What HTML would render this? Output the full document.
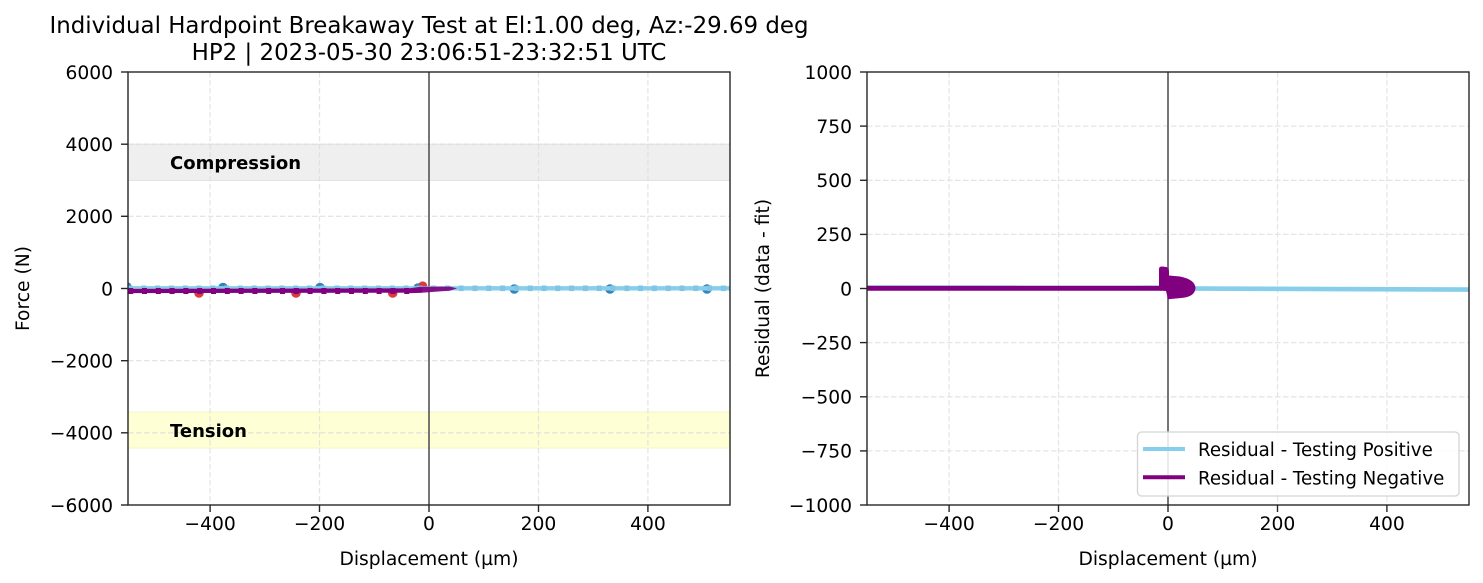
<!DOCTYPE html>
<html>
<head>
<meta charset="utf-8">
<style>
  html, body { margin: 0; padding: 0; background: #ffffff; }
  svg { display: block; }
  text { font-family: "DejaVu Sans", "Liberation Sans", sans-serif; fill: #000; }
</style>
</head>
<body>
<svg width="1483" height="583" viewBox="0 0 1483 583" xmlns="http://www.w3.org/2000/svg">
  <rect x="0" y="0" width="1483" height="583" fill="#ffffff"/>

  <defs>
    <clipPath id="clipL"><rect x="128" y="72" width="602" height="433"/></clipPath>
    <clipPath id="clipR"><rect x="867" y="72" width="602" height="433"/></clipPath>
  </defs>

  <g clip-path="url(#clipL)">
    <rect x="128" y="144.2" width="602" height="36.2" fill="#efefef" stroke="#e2e2e2" stroke-width="1"/>
    <rect x="128" y="412" width="602" height="36" fill="#ffffd6" stroke="#f4f4c8" stroke-width="1"/>
    <g stroke="#dddddd" stroke-width="1.3" stroke-dasharray="5.5,2.5" opacity="0.75">
      <line x1="210.1" y1="72" x2="210.1" y2="505"/>
      <line x1="319.5" y1="72" x2="319.5" y2="505"/>
      <line x1="429" y1="72" x2="429" y2="505"/>
      <line x1="538.5" y1="72" x2="538.5" y2="505"/>
      <line x1="647.9" y1="72" x2="647.9" y2="505"/>
      <line x1="128" y1="144.2" x2="730" y2="144.2"/>
      <line x1="128" y1="216.3" x2="730" y2="216.3"/>
      <line x1="128" y1="288.5" x2="730" y2="288.5"/>
      <line x1="128" y1="360.7" x2="730" y2="360.7"/>
      <line x1="128" y1="432.8" x2="730" y2="432.8"/>
    </g>
    <line x1="429" y1="72" x2="429" y2="505" stroke="#555555" stroke-width="1.6"/>

    <g fill="#1f77b4" opacity="0.9">
      <circle cx="127" cy="287" r="4.8"/>
      <circle cx="223" cy="287.5" r="4.8"/>
      <circle cx="320" cy="287.5" r="4.8"/>
      <circle cx="418" cy="288" r="4.8"/>
      <circle cx="514.3" cy="289" r="4.8"/>
      <circle cx="610" cy="289" r="4.8"/>
      <circle cx="707" cy="289" r="4.8"/>
    </g>
    <g fill="#d62728" opacity="0.9">
      <circle cx="199" cy="293" r="4.8"/>
      <circle cx="296" cy="293" r="4.8"/>
      <circle cx="392.7" cy="293" r="4.8"/>
      <circle cx="422.7" cy="286" r="4.6"/>
    </g>

    <line x1="128" y1="288.3" x2="730" y2="288.3" stroke="#87ceeb" stroke-width="4.3"/>
    <g fill="#7fc6e6">
      <rect x="127.5" y="285.5" width="5" height="5.6"/><rect x="141.3" y="285.5" width="5" height="5.6"/><rect x="155.1" y="285.5" width="5" height="5.6"/><rect x="168.9" y="285.5" width="5" height="5.6"/><rect x="182.7" y="285.5" width="5" height="5.6"/><rect x="196.5" y="285.5" width="5" height="5.6"/><rect x="210.3" y="285.5" width="5" height="5.6"/><rect x="224.1" y="285.5" width="5" height="5.6"/><rect x="237.9" y="285.5" width="5" height="5.6"/><rect x="251.7" y="285.5" width="5" height="5.6"/><rect x="265.5" y="285.5" width="5" height="5.6"/><rect x="279.3" y="285.5" width="5" height="5.6"/><rect x="293.1" y="285.5" width="5" height="5.6"/><rect x="306.9" y="285.5" width="5" height="5.6"/><rect x="320.7" y="285.5" width="5" height="5.6"/><rect x="334.5" y="285.5" width="5" height="5.6"/><rect x="348.3" y="285.5" width="5" height="5.6"/><rect x="362.1" y="285.5" width="5" height="5.6"/><rect x="375.9" y="285.5" width="5" height="5.6"/><rect x="389.7" y="285.5" width="5" height="5.6"/><rect x="403.5" y="285.5" width="5" height="5.6"/><rect x="417.3" y="285.5" width="5" height="5.6"/><rect x="431.1" y="285.5" width="5" height="5.6"/><rect x="444.9" y="285.5" width="5" height="5.6"/><rect x="458.7" y="285.5" width="5" height="5.6"/><rect x="472.5" y="285.5" width="5" height="5.6"/><rect x="486.3" y="285.5" width="5" height="5.6"/><rect x="500.1" y="285.5" width="5" height="5.6"/><rect x="513.9" y="285.5" width="5" height="5.6"/><rect x="527.7" y="285.5" width="5" height="5.6"/><rect x="541.5" y="285.5" width="5" height="5.6"/><rect x="555.3" y="285.5" width="5" height="5.6"/><rect x="569.1" y="285.5" width="5" height="5.6"/><rect x="582.9" y="285.5" width="5" height="5.6"/><rect x="596.7" y="285.5" width="5" height="5.6"/><rect x="610.5" y="285.5" width="5" height="5.6"/><rect x="624.3" y="285.5" width="5" height="5.6"/><rect x="638.1" y="285.5" width="5" height="5.6"/><rect x="651.9" y="285.5" width="5" height="5.6"/><rect x="665.7" y="285.5" width="5" height="5.6"/><rect x="679.5" y="285.5" width="5" height="5.6"/><rect x="693.3" y="285.5" width="5" height="5.6"/><rect x="707.1" y="285.5" width="5" height="5.6"/><rect x="720.9" y="285.5" width="5" height="5.6"/>
    </g>

    <line x1="128" y1="291" x2="422" y2="290.5" stroke="#800080" stroke-width="4.3"/>
    <g fill="#800080">
      <rect x="128.2" y="288" width="5" height="6"/><rect x="142" y="288" width="5" height="6"/><rect x="155.8" y="288" width="5" height="6"/><rect x="169.6" y="288" width="5" height="6"/><rect x="183.4" y="288" width="5" height="6"/><rect x="197.2" y="288" width="5" height="6"/><rect x="211" y="288" width="5" height="6"/><rect x="224.8" y="288" width="5" height="6"/><rect x="238.6" y="288" width="5" height="6"/><rect x="252.4" y="288" width="5" height="6"/><rect x="266.2" y="288" width="5" height="6"/><rect x="280" y="288" width="5" height="6"/><rect x="293.8" y="288" width="5" height="6"/><rect x="307.6" y="288" width="5" height="6"/><rect x="321.4" y="288" width="5" height="6"/><rect x="335.2" y="288" width="5" height="6"/><rect x="349" y="288" width="5" height="6"/><rect x="362.8" y="288" width="5" height="6"/><rect x="376.6" y="288" width="5" height="6"/><rect x="390.4" y="288" width="5" height="6"/><rect x="404.2" y="288" width="5" height="6"/>
    </g>
    <path d="M405,289 L420,286.8 L450,286.6 L457,288.4 L450,290.6 L422,292.8 L405,293.4 Z" fill="#800080" opacity="0.92"/>
  </g>

  <text x="170" y="169" font-size="18" font-weight="bold">Compression</text>
  <text x="170" y="437" font-size="18" font-weight="bold">Tension</text>

  <rect x="128" y="72" width="602" height="433" fill="none" stroke="#262626" stroke-width="1.4"/>
  <g stroke="#262626" stroke-width="1.4">
    <line x1="121" y1="72" x2="128" y2="72"/>
    <line x1="121" y1="144.2" x2="128" y2="144.2"/>
    <line x1="121" y1="216.3" x2="128" y2="216.3"/>
    <line x1="121" y1="288.5" x2="128" y2="288.5"/>
    <line x1="121" y1="360.7" x2="128" y2="360.7"/>
    <line x1="121" y1="432.8" x2="128" y2="432.8"/>
    <line x1="121" y1="505" x2="128" y2="505"/>
    <line x1="210.1" y1="505" x2="210.1" y2="512"/>
    <line x1="319.5" y1="505" x2="319.5" y2="512"/>
    <line x1="429" y1="505" x2="429" y2="512"/>
    <line x1="538.5" y1="505" x2="538.5" y2="512"/>
    <line x1="647.9" y1="505" x2="647.9" y2="512"/>
  </g>
  <g font-size="18.7" text-anchor="end">
    <text x="113" y="78.8">6000</text>
    <text x="113" y="151">4000</text>
    <text x="113" y="223.1">2000</text>
    <text x="113" y="295.3">0</text>
    <text x="113" y="367.5">−2000</text>
    <text x="113" y="439.6">−4000</text>
    <text x="113" y="511.8">−6000</text>
  </g>
  <g font-size="18.7" text-anchor="middle">
    <text x="210.1" y="530">−400</text>
    <text x="319.5" y="530">−200</text>
    <text x="429" y="530">0</text>
    <text x="538.5" y="530">200</text>
    <text x="647.9" y="530">400</text>
  </g>
  <text x="429" y="565" font-size="18.7" text-anchor="middle">Displacement (µm)</text>
  <text transform="translate(29,288.5) rotate(-90)" font-size="18.7" text-anchor="middle">Force (N)</text>
  <text x="429" y="33" font-size="22.9" text-anchor="middle">Individual Hardpoint Breakaway Test at El:1.00 deg, Az:-29.69 deg</text>
  <text x="429" y="60" font-size="22.9" text-anchor="middle">HP2 | 2023-05-30 23:06:51-23:32:51 UTC</text>

  <g clip-path="url(#clipR)">
    <g stroke="#dddddd" stroke-width="1.3" stroke-dasharray="5.5,2.5" opacity="0.75">
      <line x1="949.1" y1="72" x2="949.1" y2="505"/>
      <line x1="1058.5" y1="72" x2="1058.5" y2="505"/>
      <line x1="1168" y1="72" x2="1168" y2="505"/>
      <line x1="1277.5" y1="72" x2="1277.5" y2="505"/>
      <line x1="1386.9" y1="72" x2="1386.9" y2="505"/>
      <line x1="867" y1="126.1" x2="1469" y2="126.1"/>
      <line x1="867" y1="180.3" x2="1469" y2="180.3"/>
      <line x1="867" y1="234.4" x2="1469" y2="234.4"/>
      <line x1="867" y1="288.5" x2="1469" y2="288.5"/>
      <line x1="867" y1="342.6" x2="1469" y2="342.6"/>
      <line x1="867" y1="396.8" x2="1469" y2="396.8"/>
      <line x1="867" y1="450.9" x2="1469" y2="450.9"/>
    </g>
    <line x1="1168" y1="72" x2="1168" y2="505" stroke="#555555" stroke-width="1.6"/>

    <line x1="867" y1="287" x2="1168" y2="287.2" stroke="#87ceeb" stroke-width="3.5"/>
    <line x1="1168" y1="288.4" x2="1469" y2="289.6" stroke="#87ceeb" stroke-width="4.6"/>
    <line x1="867" y1="288.3" x2="1162" y2="288.3" stroke="#800080" stroke-width="4.8"/>
    <path d="M1159,290.5 L1159,269 Q1159,266.5 1162,266.5 L1166.5,267 Q1169,268 1169,272 L1169,275.5 L1180,276.5 Q1195,279.5 1195.5,288 Q1195,297 1181,298 L1168,299.3 L1166,291 Z" fill="#800080"/>
  </g>

  <rect x="867" y="72" width="602" height="433" fill="none" stroke="#262626" stroke-width="1.4"/>
  <g stroke="#262626" stroke-width="1.4">
    <line x1="860" y1="72" x2="867" y2="72"/>
    <line x1="860" y1="126.1" x2="867" y2="126.1"/>
    <line x1="860" y1="180.3" x2="867" y2="180.3"/>
    <line x1="860" y1="234.4" x2="867" y2="234.4"/>
    <line x1="860" y1="288.5" x2="867" y2="288.5"/>
    <line x1="860" y1="342.6" x2="867" y2="342.6"/>
    <line x1="860" y1="396.8" x2="867" y2="396.8"/>
    <line x1="860" y1="450.9" x2="867" y2="450.9"/>
    <line x1="860" y1="505" x2="867" y2="505"/>
    <line x1="949.1" y1="505" x2="949.1" y2="512"/>
    <line x1="1058.5" y1="505" x2="1058.5" y2="512"/>
    <line x1="1168" y1="505" x2="1168" y2="512"/>
    <line x1="1277.5" y1="505" x2="1277.5" y2="512"/>
    <line x1="1386.9" y1="505" x2="1386.9" y2="512"/>
  </g>
  <g font-size="18.7" text-anchor="end">
    <text x="852" y="78.8">1000</text>
    <text x="852" y="132.9">750</text>
    <text x="852" y="187.1">500</text>
    <text x="852" y="241.2">250</text>
    <text x="852" y="295.3">0</text>
    <text x="852" y="349.4">−250</text>
    <text x="852" y="403.6">−500</text>
    <text x="852" y="457.7">−750</text>
    <text x="852" y="511.8">−1000</text>
  </g>
  <g font-size="18.7" text-anchor="middle">
    <text x="949.1" y="530">−400</text>
    <text x="1058.5" y="530">−200</text>
    <text x="1168" y="530">0</text>
    <text x="1277.5" y="530">200</text>
    <text x="1386.9" y="530">400</text>
  </g>
  <text x="1168" y="565" font-size="18.7" text-anchor="middle">Displacement (µm)</text>
  <text transform="translate(769,288.5) rotate(-90)" font-size="18.7" text-anchor="middle">Residual (data - fit)</text>

  <rect x="1137.5" y="432" width="321.5" height="64" rx="4" ry="4" fill="#ffffff" fill-opacity="0.85" stroke="#d4d4d4" stroke-width="1.3"/>
  <line x1="1143" y1="449" x2="1185" y2="449" stroke="#87ceeb" stroke-width="4"/>
  <line x1="1143" y1="477.3" x2="1185" y2="477.3" stroke="#800080" stroke-width="4"/>
  <text x="1198" y="456" font-size="18.2">Residual - Testing Positive</text>
  <text x="1198" y="484.3" font-size="18.2">Residual - Testing Negative</text>
</svg>
</body>
</html>
